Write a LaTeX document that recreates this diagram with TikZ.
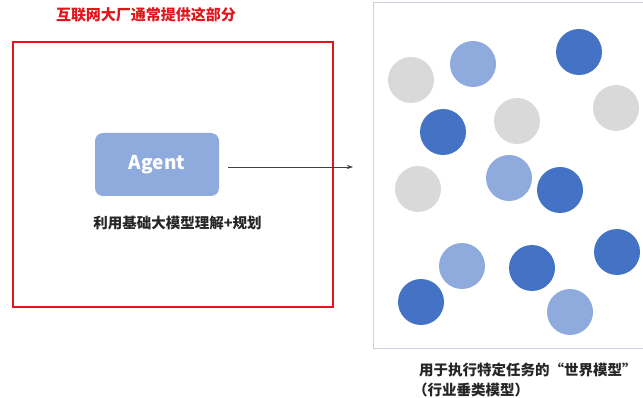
\documentclass[tikz,border=0pt]{standalone}
\usepackage{fontspec}
\newfontfamily\cjk{Noto Sans CJK SC}
\usetikzlibrary{arrows.meta}
\definecolor{darkb}{HTML}{4472C4}
\definecolor{lightb}{HTML}{8FAADC}
\definecolor{grayc}{HTML}{D9D9D9}
\definecolor{redc}{HTML}{E0161B}
\definecolor{frame}{HTML}{C8D2E0}
\begin{document}
\begin{tikzpicture}[x=1pt,y=-1pt,
  dot/.style={circle,minimum size=46pt,inner sep=0pt},
  lbl/.style={font=\cjk\bfseries\fontsize{14.5}{17}\selectfont,inner sep=0pt,text=black!85}]
\useasboundingbox (0,0) rectangle (643,398);
\node[font=\cjk\bfseries\fontsize{15}{18}\selectfont,text=redc,inner sep=0pt] (title) at (146,15) {互联网大厂通常提供这部分};
\draw[redc,line width=2.2pt] (13,42) rectangle (333,307);
\draw[frame,line width=0.8pt] (373,2) rectangle (643,348);
\node[fill=lightb,rounded corners=8pt,minimum width=124pt,minimum height=63pt,inner sep=0pt,
  font=\cjk\bfseries\fontsize{19}{22}\selectfont,text=white] (agent) at (157,164.5) {Agent};
\node[lbl] (alabel) at (177.5,223) {利用基础大模型理解+规划};
\coordinate (arrowstart) at (228,167);
\coordinate (arrowend) at (353,167);
\draw[-{Stealth[length=6pt,width=4pt]},black!75,line width=0.6pt] (arrowstart) -- (arrowend);
\foreach \x/\y/\c [count=\i] in {411/80/grayc,473/64/lightb,579/52/darkb,616/108/grayc,517/121/grayc,
  443/132/darkb,418/189/grayc,509/178/lightb,560/190/darkb,617/252/darkb,462/266/lightb,
  532/268/darkb,421/302/darkb,570/312/lightb}
  \node[dot,fill=\c] (c\i) at (\x,\y) {};
\node[lbl,anchor=west] (wlabel) at (419,370) {用于执行特定任务的“世界模型”};
\node[lbl,anchor=west] (wlabel2) at (413,390) {（行业垂类模型）};
\end{tikzpicture}
\end{document}
